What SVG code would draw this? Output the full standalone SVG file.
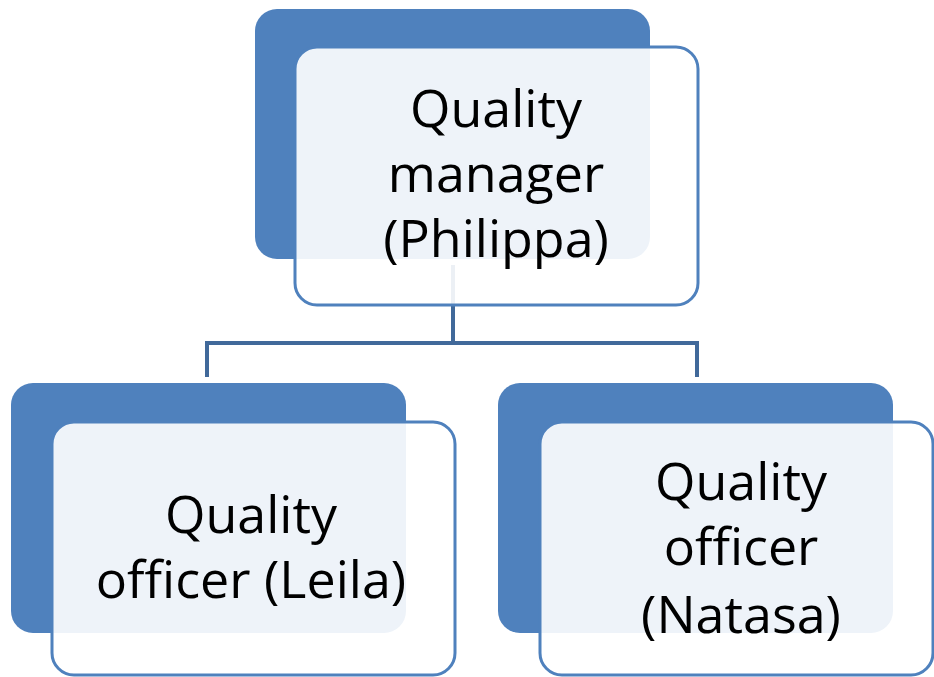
<svg xmlns="http://www.w3.org/2000/svg" width="934" height="677" viewBox="0 0 934 677">
<style>
.back{fill:#4f81bd}
.front{fill:#ffffff;fill-opacity:0.9;stroke:#4f81bd;stroke-width:3}
.lbl{font-family:"Open Sans","Liberation Sans",sans-serif;font-size:52px;fill:#000;text-anchor:middle}
.conn{fill:none;stroke:#41699a;stroke-width:4}
</style>
<rect width="934" height="677" fill="#ffffff"/>
<g id="connectors">
<path class="conn" d="M453,265 V343 M207,377 V343 H697 V377"/>
</g>
<g id="node-manager">
<rect class="back" x="255" y="9" width="395" height="250" rx="22"/>
<rect class="front" x="295" y="47" width="403" height="258" rx="22"/>
<text class="lbl" x="496" y="127">Quality</text>
<text class="lbl" x="496" y="192">manager</text>
<text class="lbl" x="496" y="257">(Philippa)</text>
</g>
<g id="node-leila">
<rect class="back" x="11" y="383" width="395" height="250" rx="22"/>
<rect class="front" x="52" y="422" width="403" height="253" rx="22"/>
<text class="lbl" x="251" y="533">Quality</text>
<text class="lbl" x="251" y="598">officer (Leila)</text>
</g>
<g id="node-natasa">
<rect class="back" x="498" y="383" width="395" height="250" rx="22"/>
<rect class="front" x="540" y="422" width="393" height="253" rx="22"/>
<text class="lbl" x="741" y="500">Quality</text>
<text class="lbl" x="741" y="565">officer</text>
<text class="lbl" x="741" y="633">(Natasa)</text>
</g>
</svg>
